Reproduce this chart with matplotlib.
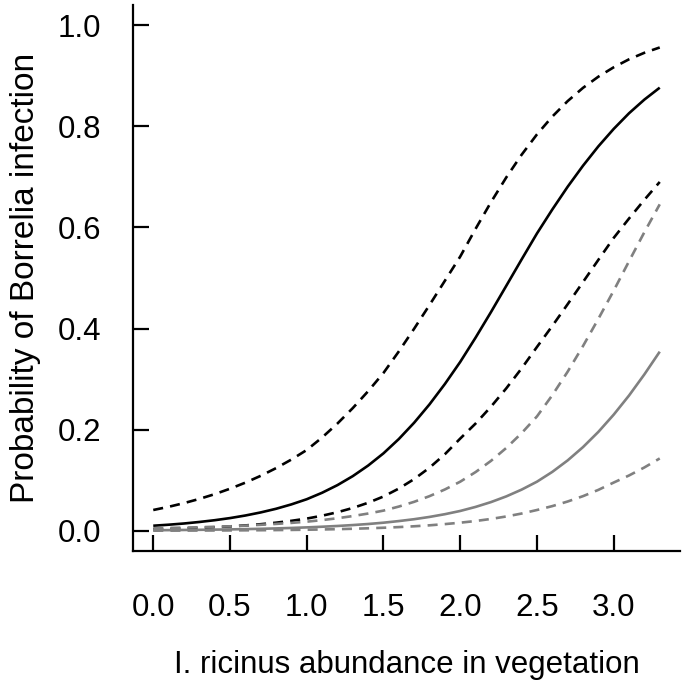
import matplotlib
matplotlib.use("Agg")
import matplotlib.pyplot as plt

plt.rcParams['font.family'] = ['Liberation Sans', 'DejaVu Sans']

x_vals = [0.0, 0.1, 0.2, 0.3, 0.4, 0.5, 0.6, 0.7, 0.8, 0.9, 1.0, 1.1, 1.2, 1.3, 1.4, 1.5, 1.6,
          1.7, 1.8, 1.9, 2.0, 2.1, 2.2, 2.3, 2.4, 2.5, 2.6, 2.7, 2.8, 2.9, 3.0, 3.1, 3.2, 3.3]

# Group 1 (black): fitted probability and 95% CI bounds
black_fit = [0.0100, 0.0120, 0.0144, 0.0174, 0.0209, 0.0251, 0.0302, 0.0363, 0.0435, 0.0522,
             0.0624, 0.0752, 0.0903, 0.1081, 0.1290, 0.1532, 0.1815, 0.2138, 0.2501, 0.2903,
             0.3340, 0.3820, 0.4324, 0.4845, 0.5367, 0.5881, 0.6355, 0.6805, 0.7221, 0.7604,
             0.7949, 0.8259, 0.8529, 0.8765]
black_upper = [0.0411, 0.0474, 0.0547, 0.0630, 0.0724, 0.0832, 0.0952, 0.1087, 0.1239, 0.1409,
               0.1598, 0.1845, 0.2121, 0.2427, 0.2761, 0.3122, 0.3548, 0.3998, 0.4466, 0.4945,
               0.5424, 0.5972, 0.6498, 0.6989, 0.7438, 0.7841, 0.8193, 0.8499, 0.8761, 0.8982,
               0.9168, 0.9326, 0.9455, 0.9560]
black_lower = [0.0030, 0.0037, 0.0046, 0.0057, 0.0070, 0.0086, 0.0106, 0.0130, 0.0160, 0.0197,
               0.0241, 0.0298, 0.0367, 0.0451, 0.0554, 0.0678, 0.0835, 0.1023, 0.1248, 0.1514,
               0.1824, 0.2121, 0.2453, 0.2817, 0.3212, 0.3636, 0.4052, 0.4482, 0.4920, 0.5359,
               0.5793, 0.6177, 0.6547, 0.6900]

# Group 2 (grey): fitted probability and 95% CI bounds
grey_fit = [0.0011, 0.0013, 0.0016, 0.0019, 0.0023, 0.0027, 0.0033, 0.0039, 0.0047, 0.0056,
            0.0067, 0.0080, 0.0095, 0.0113, 0.0134, 0.0160, 0.0192, 0.0229, 0.0274, 0.0328,
            0.0392, 0.0472, 0.0567, 0.0680, 0.0814, 0.0971, 0.1165, 0.1392, 0.1655, 0.1956,
            0.2297, 0.2676, 0.3094, 0.3543]
grey_upper = [0.0050, 0.0056, 0.0063, 0.0070, 0.0079, 0.0088, 0.0102, 0.0118, 0.0136, 0.0156,
              0.0180, 0.0211, 0.0248, 0.0291, 0.0341, 0.0399, 0.0479, 0.0573, 0.0685, 0.0817,
              0.0971, 0.1161, 0.1382, 0.1638, 0.1931, 0.2262, 0.2682, 0.3147, 0.3654, 0.4192,
              0.4750, 0.5332, 0.5907, 0.6457]
grey_lower = [0.0002, 0.0003, 0.0004, 0.0005, 0.0006, 0.0007, 0.0009, 0.0011, 0.0014, 0.0017,
              0.0021, 0.0026, 0.0032, 0.0040, 0.0049, 0.0060, 0.0073, 0.0089, 0.0108, 0.0132,
              0.0160, 0.0193, 0.0234, 0.0283, 0.0341, 0.0411, 0.0488, 0.0579, 0.0685, 0.0809,
              0.0954, 0.1094, 0.1253, 0.1431]

x_ticks = [0.0, 0.5, 1.0, 1.5, 2.0, 2.5, 3.0]
y_ticks = [0.0, 0.2, 0.4, 0.6, 0.8, 1.0]

W, H = 685, 687
fig = plt.figure(figsize=(W / 100, H / 100), dpi=100)
ax = fig.add_axes([133 / W, (H - 551) / H, 547 / W, 546 / H])

lw = 1.9
dash = (3.8, 2.7)
grey = '#808080'

ax.plot(x_vals, black_fit, color='black', lw=lw, solid_capstyle='butt')
ax.plot(x_vals, black_upper, color='black', lw=lw, dashes=dash)
ax.plot(x_vals, black_lower, color='black', lw=lw, dashes=dash)
ax.plot(x_vals, grey_fit, color=grey, lw=lw, solid_capstyle='butt')
ax.plot(x_vals, grey_upper, color=grey, lw=lw, dashes=dash)
ax.plot(x_vals, grey_lower, color=grey, lw=lw, dashes=dash)

ax.set_xlim(-0.132, 3.432)
ax.set_ylim(-0.04, 1.04)

for s in ['top', 'right']:
    ax.spines[s].set_visible(False)
for s in ['left', 'bottom']:
    ax.spines[s].set_linewidth(1.6)

ax.set_xticks(x_ticks)
ax.set_xticklabels([f"{v:.1f}" for v in x_ticks])
ax.set_yticks(y_ticks)
ax.set_yticklabels([f"{v:.1f}" for v in y_ticks])
ax.tick_params(axis='both', direction='in', length=11.5, width=1.6, labelsize=22.5)
ax.tick_params(axis='x', pad=30)
ax.tick_params(axis='y', pad=23)

ax.set_xlabel('I. ricinus abundance in vegetation', fontsize=22.5)
ax.set_ylabel('Probability of Borrelia infection', fontsize=24)
ax.xaxis.set_label_coords(0.5, (551 - 665) / 546)
ax.xaxis.label.set_va('center')
ax.yaxis.set_label_coords((26 - 133) / 547, 0.5)
ax.yaxis.label.set_va('center')

fig.savefig('out.png', dpi=100)
